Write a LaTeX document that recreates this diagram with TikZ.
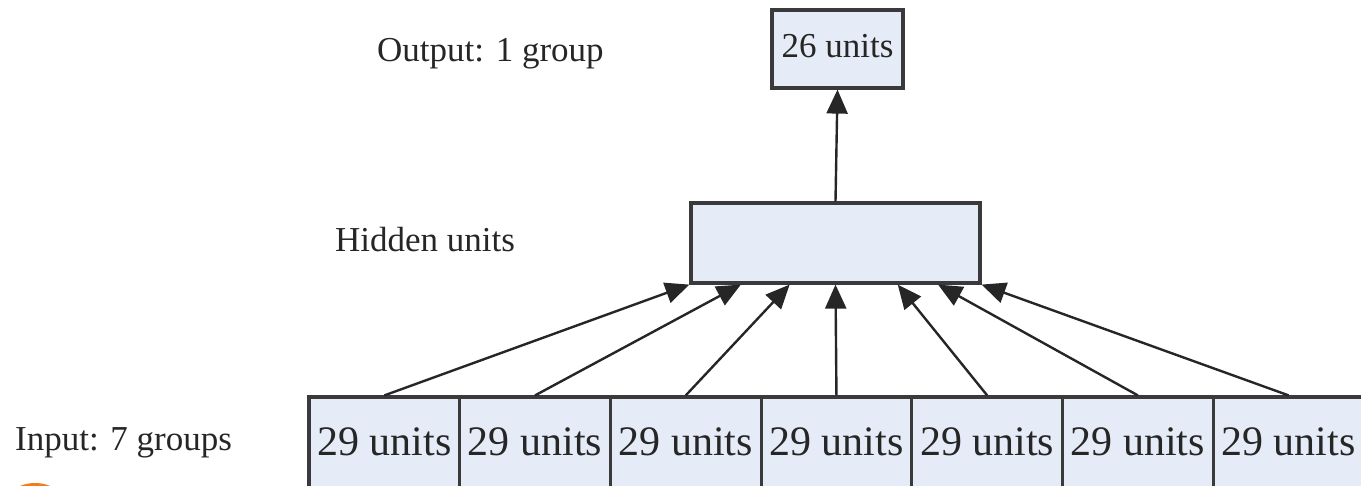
\documentclass[tikz,border=0pt]{standalone}
\usepackage{fontspec}
\setmainfont{Liberation Serif}
\usetikzlibrary{arrows.meta,calc}
\definecolor{boxfill}{HTML}{E6ECF7}
\definecolor{boxline}{HTML}{3A3A3A}
\definecolor{inkgrey}{HTML}{262626}
\definecolor{blob}{HTML}{F07D1A}
\tikzset{
  unitbox/.style={draw=boxline, fill=boxfill, line width=3.2pt, inner sep=0pt, text=inkgrey},
  caption/.style={anchor=base west, inner sep=0pt, text=inkgrey, font=\fontsize{35}{40}\selectfont},
  feed/.style={line width=2.4pt, draw=black!85, -{Triangle[length=24pt,width=21pt]}},
}
\begin{document}
\begin{tikzpicture}[x=1pt,y=-1pt]
  \path[use as bounding box] (0,0) rectangle (1361,486);
  \clip (0,0) rectangle (1361,486);

  % output group
  \node[unitbox, anchor=base, minimum width=131pt, text height=48pt, text depth=30pt,
        font=\fontsize{35}{40}\selectfont] (out) at (837.5,58) {26 units};

  % hidden layer
  \node[unitbox, minimum width=289pt, minimum height=80pt] (hid) at (835.5,243) {};

  % seven input groups
  \foreach \k in {1,...,7} {
    \node[unitbox, anchor=base, minimum width=150.7pt, text height=58pt, text depth=70pt,
          font=\fontsize{42}{48}\selectfont] (in\k) at ({309+75.35+150.7*(\k-1)},455) {29 units};
  }

  % captions
  \node[caption] (capout) at (377,62) {Output: 1 group};
  \node[caption] (caphid) at (335,252) {Hidden units};
  \node[caption] (capin) at (15,450) {Input: 7 groups};

  % connections into the hidden layer
  \foreach \k/\f in {1/0, 2/0.176, 3/0.343, 4/0.5, 5/0.713, 6/0.851, 7/1} {
    \draw[feed] (in\k.north) -- ($(hid.south west)!\f!(hid.south east)$);
  }
  % hidden layer to output
  \draw[feed] (hid.north) -- (out.south);

  % orange mark in the lower left corner
  \fill[blob] (35,498) ellipse[x radius=25, y radius=15];
\end{tikzpicture}
\end{document}
